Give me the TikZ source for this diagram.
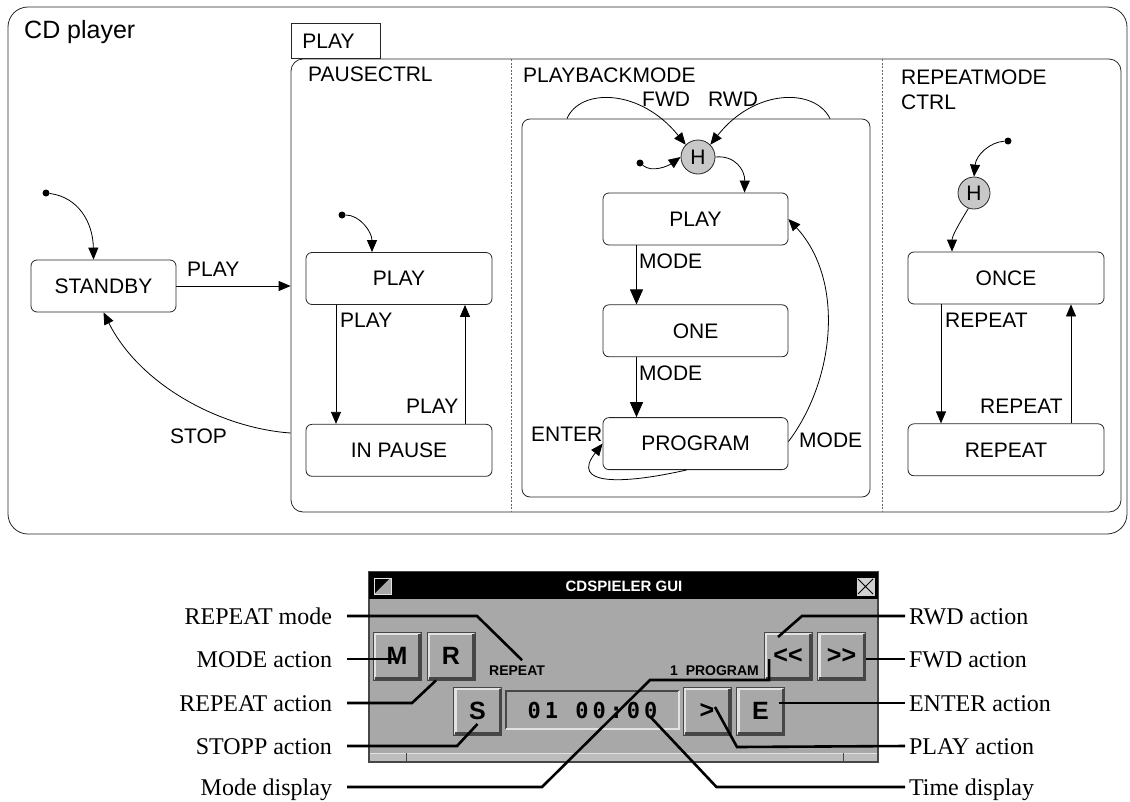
\documentclass[tikz,border=0pt]{standalone}
\usepackage{fontspec}
\setmainfont{Liberation Serif}
\newfontfamily\arialfont{Liberation Sans}
\newfontfamily\guimonofont{DejaVu Sans Mono}
\usetikzlibrary{positioning,arrows.meta,calc}

\definecolor{histgray}{HTML}{C8C8C8}
\definecolor{guigray}{HTML}{A8A8A8}
\definecolor{guilight}{HTML}{E2E2E2}
\definecolor{guidark}{HTML}{464646}
\definecolor{stripgray}{HTML}{BDBDBD}

\newcommand{\statefont}{\arialfont\fontsize{21}{25}\selectfont}
\newcommand{\cdtitlefont}{\arialfont\fontsize{25}{29}\selectfont}
\newcommand{\guilabelfont}{\fontsize{24}{28}\selectfont}
\newcommand{\btnfont}{\arialfont\bfseries\fontsize{25}{28}\selectfont}
\newcommand{\guismallfont}{\arialfont\bfseries\fontsize{14}{16}\selectfont}
\newcommand{\guititlefont}{\arialfont\bfseries\fontsize{15}{18}\selectfont}
\newcommand{\dispfont}{\guimonofont\bfseries\fontsize{22}{26}\selectfont\addfontfeature{LetterSpace=18}}

\begin{document}
\begin{tikzpicture}[
    x=1pt, y=-1pt,
    node distance=59pt,
    state/.style={draw=black!85, line width=0.8pt, rounded corners=6pt, minimum width=186pt, minimum height=52pt, inner sep=0pt, font=\statefont},
    superstate/.style={draw=black!85, line width=0.8pt, inner sep=0pt},
    region/.style={font=\statefont, anchor=base west, inner sep=0pt, align=left},
    lbl/.style={font=\statefont, anchor=base west, inner sep=0pt},
    trans/.style={-{Triangle[length=12pt, width=10pt]}, line width=0.8pt},
    bigtrans/.style={-{Triangle[length=15pt, width=13pt]}, line width=0.8pt},
    hist/.style={circle, draw=black!85, line width=0.8pt, fill=histgray, minimum size=34pt, inner sep=0pt, font=\statefont},
    initdot/.style={circle, fill, inner sep=0pt, minimum size=7pt},
    sep/.style={dash pattern=on 2pt off 1.5pt, black!60, line width=0.7pt},
    btn/.style={draw=guidark, line width=0.8pt, fill=guigray, minimum width=48pt, minimum height=48pt, inner sep=0pt, font=\btnfont,
        path picture={
            \draw[guilight, line width=3pt] ([shift={(1.5pt,1.5pt)}]path picture bounding box.south west) |- ([shift={(-1.5pt,-1.5pt)}]path picture bounding box.north east);
            \draw[guidark, line width=3pt] ([shift={(1.5pt,1.5pt)}]path picture bounding box.south west) -| ([shift={(-1.5pt,-1.5pt)}]path picture bounding box.north east);
        }},
    sunken/.style={fill=guigray, inner sep=0pt,
        path picture={
            \draw[guidark, line width=2.5pt] ([shift={(1.2pt,1.2pt)}]path picture bounding box.south west) |- ([shift={(-1.2pt,-1.2pt)}]path picture bounding box.north east);
            \draw[guilight, line width=2.5pt] ([shift={(1.2pt,1.2pt)}]path picture bounding box.south west) -| ([shift={(-1.2pt,-1.2pt)}]path picture bounding box.north east);
        }},
    guitext/.style={font=\guismallfont, anchor=base west, inner sep=0pt},
    guilbl/.style={font=\guilabelfont, inner sep=0pt, text height=16pt, text depth=0pt},
    lgui/.style={guilbl, anchor=east, outer xsep=15pt},
    rgui/.style={guilbl, anchor=west, outer xsep=4pt},
    leader/.style={line width=2.6pt},
]
\useasboundingbox (0,0) rectangle (1130,801);

% ================== CD player ==================
\node[superstate, rounded corners=20pt, minimum width=1119pt, minimum height=527pt] (cd) at (567.5,270.5) {};
\node[font=\cdtitlefont, anchor=base west, inner sep=0pt] (cdTitle) at (24,38) {CD player};

\node[initdot] (init1) at (46,193) {};
\node[state, minimum width=145pt] (standby) at (103.5,286) {STANDBY};
\draw[trans] (init1) .. controls (78,197) and (93,222) .. ([xshift=-10pt]standby.north);

% ================== PLAY ==================
\node[superstate, rounded corners=12pt, minimum width=830pt, minimum height=453pt] (play) at (706,285.5) {};
\node[superstate, anchor=south west, minimum width=89pt, minimum height=35pt, inner xsep=11pt, text width=67pt, align=left, font=\statefont] (playTab) at (291,59) {PLAY};
\draw[sep] (511,59) -- (511,512);
\draw[sep] (882,59) -- (882,512);

\draw[trans] (standby.east) -- (standby.east -| play.west);
\node[lbl] (lPlay1) at (187,276) {PLAY};

\coordinate (stopStart) at ($(play.west |- 0,448)+(0,-15)$);
\draw[trans] (stopStart) .. controls (220,428) and (140,385) .. (standby.south);
\node[lbl] (lStop) at (170,443) {STOP};

% ================== PAUSECTRL ==================
\node[region] (pauseTitle) at (308,81) {PAUSECTRL};
\node[initdot] (init2) at (342,215) {};
\node[state] (pplay) at (399,278.5) {PLAY};
\node[state, below=119pt of pplay] (inpause) {IN PAUSE};

\draw[trans] (init2) .. controls (360,215) and (372,232) .. ([xshift=-27pt]pplay.north);
\draw[trans] ([xshift=-63pt]pplay.south) -- ([xshift=-63pt]inpause.north);
\draw[trans] ([xshift=66pt]inpause.north) -- ([xshift=66pt]pplay.south);
\node[lbl] (lPlay2) at (340,327) {PLAY};
\node[lbl] (lPlay3) at (406,413) {PLAY};

% ================== PLAYBACKMODE ==================
\node[region] (pbmTitle) at (523,82) {PLAYBACKMODE};
\node[superstate, rounded corners=8pt, minimum width=348pt, minimum height=378pt] (pbm) at (696,308) {};
\node[hist] (h1) at (698,157) {H};
\node[initdot] (init3) at (640,163) {};
\node[state, minimum width=185pt] (bplay) at (695.5,219) {PLAY};
\node[state, minimum width=185pt, below=of bplay] (bone) {ONE};
\node[state, minimum width=185pt, below=60pt of bone] (bprog) {PROGRAM};

\draw[trans] (init3) .. controls (652,173) and (668,166) .. (h1.west);
\draw[trans] ([xshift=-129pt]pbm.north) .. controls (580,88) and (640,88) .. (h1.135);
\draw[trans] ([xshift=134pt]pbm.north) .. controls (815,88) and (755,88) .. (h1.45);
\draw[trans] (h1.east) .. controls (735,155) and (745,170) .. ([xshift=49pt]bplay.north);
\draw[bigtrans] ([xshift=-59pt]bplay.south) -- ([xshift=-59pt]bone.north);
\draw[bigtrans] ([xshift=-59pt]bone.south) -- ([xshift=-59pt]bprog.north);
\draw[trans] ([yshift=2pt]bprog.east) .. controls (835,380) and (845,280) .. (bplay.east);
\draw[trans] ([xshift=-9pt]bprog.south) .. controls (620,485) and (570,485) .. (bprog.west);

\node[lbl] (lFwd) at (642,106) {FWD};
\node[lbl] (lRwd) at (708,106) {RWD};
\node[lbl] (lMode1) at (639,268) {MODE};
\node[lbl] (lMode2) at (639,380) {MODE};
\node[lbl] (lMode3) at (799,447) {MODE};
\node[lbl] (lEnter) at (531,441) {ENTER};

% ================== REPEATMODE CTRL ==================
\node[region, anchor=north west] (repTitle) at (901,70) {REPEATMODE\\CTRL};
\node[initdot] (init4) at (1008,141) {};
\node[hist, minimum size=32pt] (h2) at (974,193) {H};
\node[state, minimum width=196pt] (once) at (1006,278) {ONCE};
\node[state, minimum width=196pt, below=119pt of once] (rep) {REPEAT};

\draw[trans] (init4) .. controls (990,142) and (976,155) .. (h2.north);
\draw[trans] (h2.250) .. controls (960,222) and (952,236) .. ([xshift=-54pt]once.north);
\draw[trans] ([xshift=-65pt]once.south) -- ([xshift=-65pt]rep.north);
\draw[trans] ([xshift=65pt]rep.north) -- ([xshift=65pt]once.south);
\node[lbl] (lRep1) at (945,327) {REPEAT};
\node[lbl] (lRep2) at (980,413) {REPEAT};

% ================== GUI window ==================
\draw[guidark, fill=guigray, line width=1.2pt] (369,572) rectangle (878,762);
\fill (369,572) rectangle (878,599);
\node[font=\guititlefont, text=white, inner sep=0pt] (guiTitle) at (624,586) {CDSPIELER GUI};
\draw[guilight, fill=guigray, line width=1pt] (374,578) rectangle (391,594);
\fill (375,579) -- (389,579) -- (375,593) -- cycle;
\draw[black, fill=guilight!70!guigray, line width=0.8pt] (856,577) rectangle (875,596);
\draw[line width=1pt] (858,579) -- (873,594) (873,579) -- (858,594);
\fill[stripgray] (370,753) rectangle (877,761);
\draw[guilight] (370,753) -- (877,753);
\draw[guidark] (406,753) -- (406,761) (843,753) -- (843,761);

\node[btn] (bM) at (397,656) {M};
\node[btn] (bR) at (451,656) {R};
\node[btn] (bRwd) at (788,656) {<<};
\node[btn] (bFwd) at (841.5,656) {>>};
\node[btn] (bS) at (477.5,711) {S};
\node[btn] (bPlay) at (707,711) {>};
\node[btn] (bE) at (760.5,711) {E};
\node[sunken, minimum width=175pt, minimum height=40pt, font=\dispfont] (disp) at (592.5,710) {01 00:00};
\node[guitext] (repTxt) at (489,675) {REPEAT};
\node[guitext] (progTxt) at (670,675) {1\ \ PROGRAM};

% leader labels
\node[lgui] (lRepMode) at (347,616) {REPEAT mode};
\node[lgui] (lModeAct) at (347,659) {MODE action};
\node[lgui] (lRepAct) at (347,703) {REPEAT action};
\node[lgui] (lStopAct) at (347,746) {STOPP action};
\node[lgui] (lModeDisp) at (347,787) {Mode display};
\node[rgui] (lRwdAct) at (905,616) {RWD action};
\node[rgui] (lFwdAct) at (905,659) {FWD action};
\node[rgui] (lEntAct) at (905,703) {ENTER action};
\node[rgui] (lPlayAct) at (905,746) {PLAY action};
\node[rgui] (lTimeDisp) at (905,787) {Time display};

\draw[leader] (lRepMode.east) -- ++(130,0) -- ([shift={(5pt,5pt)}]repTxt.north);
\draw[leader] (lModeAct.east) -- (lModeAct.east -| bM.center);
\draw[leader] (lRepAct.east) -- ++(65,0) -- ([xshift=-15pt]bR.south);
\draw[leader] (lStopAct.east) -- ++(110,0) -- ([yshift=-13pt]bS.center);
\draw[leader] (lModeDisp.east) -- ++(195,0) -- ++(108,-107) -| ([shift={(10pt,6pt)}]progTxt.north east);
\draw[leader] ([shift={(-10pt,19pt)}]bRwd.center) -- ++(24,-21) -- (lRwdAct.west);
\draw[leader] (lFwdAct.west -| bFwd.east) -- (lFwdAct.west);
\draw[leader] ($(lEntAct.west -| bE.east)+(-6,0)$) -- (lEntAct.west);
\draw[leader] ([shift={(8pt,4pt)}]bPlay.center) -- ++(22,40) -- (lPlayAct.west);
\draw[leader] ([shift={(58pt,-7pt)}]disp.center) -- ++(66,70) -- (lTimeDisp.west);

\end{tikzpicture}
\end{document}
